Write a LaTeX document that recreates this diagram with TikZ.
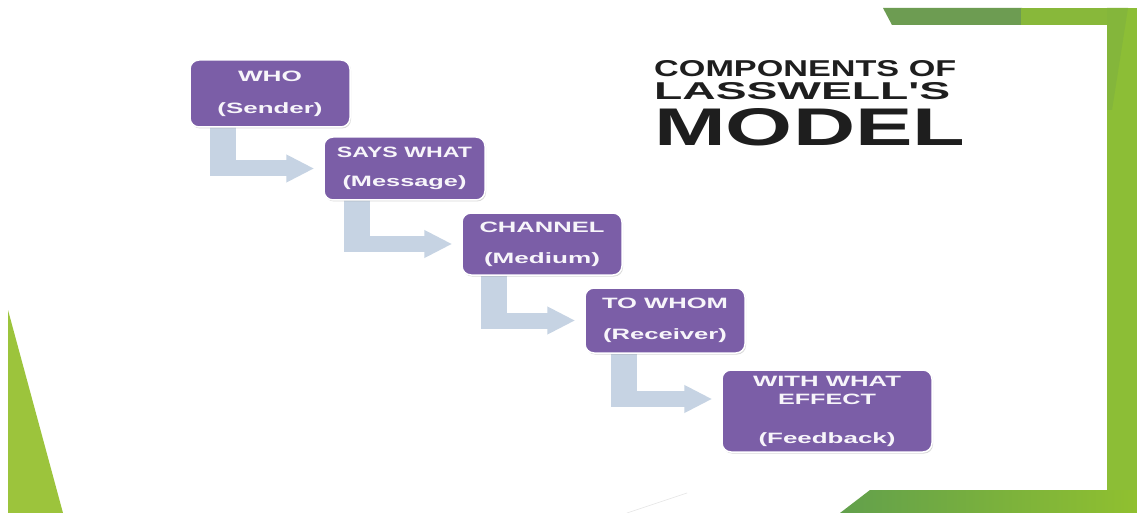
\documentclass[tikz,border=0pt]{standalone}
\usepackage{fontspec}
\setmainfont{Liberation Sans}
\newfontfamily\plainsans{Liberation Sans}
\usepackage{graphicx}
\usetikzlibrary{arrows.meta,shadows,backgrounds,calc}
\definecolor{boxpurple}{HTML}{7B5EA7}
\definecolor{arrowblue}{HTML}{C6D3E3}
\definecolor{titlegray}{HTML}{1E1E1E}
\definecolor{greenleft}{HTML}{9CC43C}
\definecolor{greenright}{HTML}{8CBE36}
\definecolor{greenrightdark}{HTML}{84B63B}
\definecolor{greentopdark}{HTML}{6D9C52}
\definecolor{greentoplight}{HTML}{88B83A}
\definecolor{greenbotdark}{HTML}{62A04C}
\definecolor{greenbotlight}{HTML}{90C02F}
\newcommand\fitline[2]{\resizebox{#1pt}{\height}{#2}}
\begin{document}
\begin{tikzpicture}[x=1pt,y=-1pt,
  stage/.style={draw=white, line width=1.5pt, fill=boxpurple, rounded corners=9pt,
    text=white!94!boxpurple, font=\bfseries\fontsize{15}{31}\selectfont, align=center, inner sep=0pt,
    drop shadow={opacity=0.3, shadow xshift=1pt, shadow yshift=-1.5pt, fill=gray}},
  titletext/.style={text=titlegray, font=\plainsans\bfseries, inner sep=0pt, anchor=base west},
  vband/.style={arrowblue, line width=26pt, line cap=butt},
  hband/.style={arrowblue, line width=16pt, -{Triangle[width=26pt,length=28pt]}, shorten >=9pt}
]
\begin{scope}[on background layer]
  \fill[white] (0,0) rectangle (1137,513);
\end{scope}
\useasboundingbox (0,0) rectangle (1137,513);

% green frame
\fill[greenleft] (8,310) -- (8,513) -- (63,513) -- cycle;
\fill[greenright] (1107,8) rectangle (1137,513);
\fill[greenrightdark] (1107,8) -- (1128,8) -- (1112,110) -- (1107,110) -- cycle;
\fill[greentopdark] (883,8) -- (1022,8) -- (1022,25) -- (892,25) -- cycle;
\fill[greentoplight] (1021,8) -- (1107,8) -- (1107,25) -- (1021,25) -- cycle;
\shade[left color=greenbotdark, right color=greenbotlight] (840,513) -- (870,490) -- (1137,490) -- (1137,513) -- cycle;
\draw[gray!22, line width=0.6pt] (687,493) -- (627,513);

% title
\node[titletext] (t1) at (654,77) {\resizebox{302pt}{16pt}{COMPONENTS OF}};
\node[titletext] (t2) at (654,100) {\resizebox{296pt}{17pt}{LASSWELL'S}};
\node[titletext] (t3) at (654,146) {\resizebox{311pt}{37pt}{MODEL}};

% stages
\node[stage, minimum width=160pt, minimum height=67pt] (who) at (270,93.5)
  {\fitline{64}{WHO}\\[1pt]\fitline{105}{(Sender)}};
\node[stage, minimum width=161pt, minimum height=63pt] (says) at (404.5,168.5)
  {\fitline{135}{SAYS WHAT}\\[-1.5pt]\fitline{124}{(Message)}};
\node[stage, minimum width=160pt, minimum height=62pt] (channel) at (542,244)
  {\fitline{125}{CHANNEL}\\\fitline{116}{(Medium)}};
\node[stage, minimum width=160pt, minimum height=65pt] (whom) at (665,320.5)
  {\fitline{126}{TO WHOM}\\\fitline{124}{(Receiver)}};
\node[stage, minimum width=210pt, minimum height=82pt] (effect) at (827,411)
  {\fitline{148}{WITH WHAT}\\[-13pt]\fitline{98}{EFFECT}\\[8pt]\fitline{137}{(Feedback)}};

% connectors
\coordinate (a1) at ([xshift=34pt,yshift=3pt]who.south west);
\coordinate (k1) at (a1 |- says.west);
\coordinate (a2) at ([xshift=34pt,yshift=3pt]says.south west);
\coordinate (k2) at (a2 |- channel.west);
\coordinate (a3) at ([xshift=33pt,yshift=3pt]channel.south west);
\coordinate (k3) at (a3 |- whom.west);
\coordinate (e4) at ([yshift=12pt]effect.west);
\coordinate (a4) at ([xshift=40pt,yshift=3pt]whom.south west);
\coordinate (k4) at (a4 |- e4);
\begin{scope}[on background layer]
  \draw[vband] (a1) -- ([yshift=-8pt]k1);
  \draw[hband] ([xshift=-13pt]k1) -- (says.west);
  \draw[vband] (a2) -- ([yshift=-8pt]k2);
  \draw[hband] ([xshift=-13pt]k2) -- (channel.west);
  \draw[vband] (a3) -- ([yshift=-8pt]k3);
  \draw[hband] ([xshift=-13pt]k3) -- (whom.west);
  \draw[vband] (a4) -- ([yshift=-8pt]k4);
  \draw[hband] ([xshift=-13pt]k4) -- (e4);
\end{scope}
\end{tikzpicture}
\end{document}
